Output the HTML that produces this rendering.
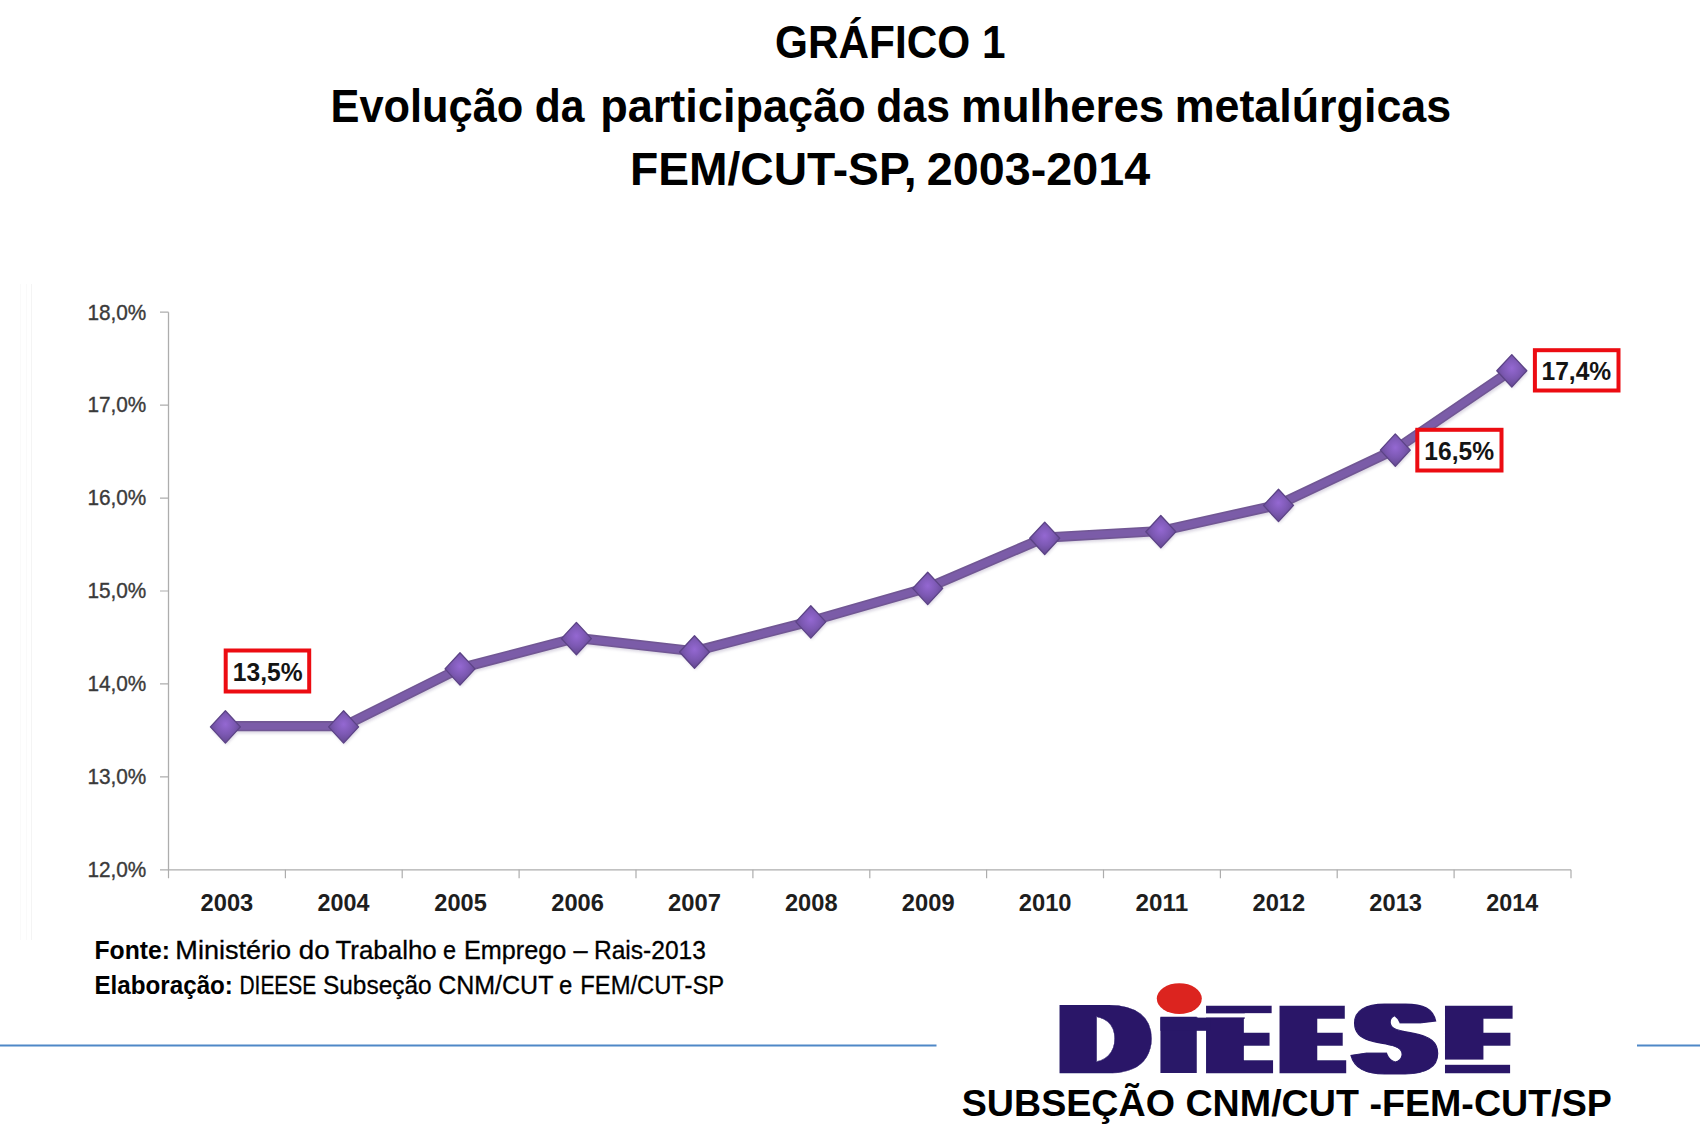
<!DOCTYPE html>
<html lang="pt-BR"><head><meta charset="utf-8"><title>GRÁFICO 1 – Evolução da participação das mulheres metalúrgicas</title>
<style>
html,body{margin:0;padding:0;background:#fff;}
body{width:1700px;height:1133px;overflow:hidden;position:relative;}
svg{position:absolute;left:0;top:0;display:block;}
text{font-family:"Liberation Sans",Arial,Helvetica,sans-serif;}
.t{font-weight:bold;fill:#000;font-size:45.5px;}
.yl{font-size:21.5px;fill:#3a3a3a;stroke:#3a3a3a;stroke-width:0.35px;}
.xl{font-size:23.5px;font-weight:bold;fill:#1e1e1e;}
.dl{font-size:25.5px;font-weight:bold;fill:#141414;}
.fn{font-size:25px;fill:#000;stroke:#000;stroke-width:0.3px;}
.fn .b{stroke:none;}
.b{font-weight:bold;}
.sub{font-size:37.7px;font-weight:bold;fill:#000;}
.logo{font-weight:bold;fill:#291868;}
</style></head><body>
<svg width="1700" height="1133" viewBox="0 0 1700 1133">
<defs>
<radialGradient id="dg" cx="0.5" cy="0.42" r="0.55">
<stop offset="0" stop-color="#9468d2"/><stop offset="0.55" stop-color="#7d59b4"/><stop offset="1" stop-color="#664a94"/>
</radialGradient>
<filter id="sh" x="-5%" y="-20%" width="110%" height="140%"><feGaussianBlur stdDeviation="1.6"/></filter>
</defs>
<rect width="1700" height="1133" fill="#ffffff"/>
<text class="t" x="775.06" y="58.00" textLength="230.51" lengthAdjust="spacingAndGlyphs">GRÁFICO 1</text>
<text class="t" y="121.50"><tspan x="330.50" textLength="192.79" lengthAdjust="spacingAndGlyphs">Evolução</tspan> <tspan x="534.75" textLength="49.68" lengthAdjust="spacingAndGlyphs">da</tspan> <tspan x="600.13" textLength="265.63" lengthAdjust="spacingAndGlyphs">participação</tspan> <tspan x="876.35" textLength="73.60" lengthAdjust="spacingAndGlyphs">das</tspan> <tspan x="960.99" textLength="203.29" lengthAdjust="spacingAndGlyphs">mulheres</tspan> <tspan x="1174.64" textLength="276.59" lengthAdjust="spacingAndGlyphs">metalúrgicas</tspan></text>
<text class="t" y="184.70"><tspan x="629.91" textLength="286.68" lengthAdjust="spacingAndGlyphs">FEM/CUT-SP,</tspan> <tspan x="926.88" textLength="223.27" lengthAdjust="spacingAndGlyphs">2003-2014</tspan></text>
<g id="chart">
<path d="M20.5 284V940M26.5 284V940" stroke="#fafafa" stroke-width="1" fill="none"/>
<path d="M31.5 284V940" stroke="#f4f4f4" stroke-width="1" fill="none"/>
<path d="M168.5 312.2V869.8H1571.0" stroke="#adadad" stroke-width="1.3" fill="none"/>
<path d="M160.0 312.2H168.5M160.0 405.1H168.5M160.0 498.1H168.5M160.0 591.0H168.5M160.0 683.9H168.5M160.0 776.9H168.5M160.0 869.8H168.5M168.5 869.8V878.2M285.4 869.8V878.2M402.2 869.8V878.2M519.1 869.8V878.2M636.0 869.8V878.2M752.9 869.8V878.2M869.8 869.8V878.2M986.6 869.8V878.2M1103.5 869.8V878.2M1220.4 869.8V878.2M1337.2 869.8V878.2M1454.1 869.8V878.2M1571.0 869.8V878.2" stroke="#adadad" stroke-width="1.2" fill="none"/>
<text class="yl" x="87.42" y="319.50" textLength="58.92" lengthAdjust="spacingAndGlyphs">18,0%</text>
<text class="yl" x="87.42" y="412.43" textLength="58.92" lengthAdjust="spacingAndGlyphs">17,0%</text>
<text class="yl" x="87.42" y="505.37" textLength="58.92" lengthAdjust="spacingAndGlyphs">16,0%</text>
<text class="yl" x="87.42" y="598.30" textLength="58.92" lengthAdjust="spacingAndGlyphs">15,0%</text>
<text class="yl" x="87.42" y="691.23" textLength="58.92" lengthAdjust="spacingAndGlyphs">14,0%</text>
<text class="yl" x="87.42" y="784.17" textLength="58.92" lengthAdjust="spacingAndGlyphs">13,0%</text>
<text class="yl" x="87.42" y="877.10" textLength="58.92" lengthAdjust="spacingAndGlyphs">12,0%</text>
<text class="xl" x="200.62" y="910.90" textLength="52.68" lengthAdjust="spacingAndGlyphs">2003</text>
<text class="xl" x="317.50" y="910.90" textLength="51.93" lengthAdjust="spacingAndGlyphs">2004</text>
<text class="xl" x="434.37" y="910.90" textLength="52.47" lengthAdjust="spacingAndGlyphs">2005</text>
<text class="xl" x="551.24" y="910.90" textLength="52.68" lengthAdjust="spacingAndGlyphs">2006</text>
<text class="xl" x="668.11" y="910.90" textLength="52.87" lengthAdjust="spacingAndGlyphs">2007</text>
<text class="xl" x="784.99" y="910.90" textLength="52.55" lengthAdjust="spacingAndGlyphs">2008</text>
<text class="xl" x="901.87" y="910.90" textLength="52.70" lengthAdjust="spacingAndGlyphs">2009</text>
<text class="xl" x="1018.74" y="910.90" textLength="52.80" lengthAdjust="spacingAndGlyphs">2010</text>
<text class="xl" x="1135.60" y="910.90" textLength="52.51" lengthAdjust="spacingAndGlyphs">2011</text>
<text class="xl" x="1252.49" y="910.90" textLength="52.77" lengthAdjust="spacingAndGlyphs">2012</text>
<text class="xl" x="1369.37" y="910.90" textLength="52.68" lengthAdjust="spacingAndGlyphs">2013</text>
<text class="xl" x="1486.25" y="910.90" textLength="51.93" lengthAdjust="spacingAndGlyphs">2014</text>
<g filter="url(#sh)" opacity="0.2"><polyline points="225.4,726.2 343.6,726.2 460.0,668.2 576.4,637.9 694.5,651.3 810.8,621.2 927.7,587.7 1044.7,537.6 1160.8,531.0 1278.5,504.7 1395.3,449.4 1511.8,370.1" transform="translate(1,2)" fill="none" stroke="#4a3570" stroke-width="10" stroke-linejoin="round"/>
<path d="M226.4 713.7l15 15.5l-15 15.5l-15-15.5z" fill="#4a3570"/>
<path d="M344.6 713.7l15 15.5l-15 15.5l-15-15.5z" fill="#4a3570"/>
<path d="M461.0 655.7l15 15.5l-15 15.5l-15-15.5z" fill="#4a3570"/>
<path d="M577.4 625.4l15 15.5l-15 15.5l-15-15.5z" fill="#4a3570"/>
<path d="M695.5 638.8l15 15.5l-15 15.5l-15-15.5z" fill="#4a3570"/>
<path d="M811.8 608.7l15 15.5l-15 15.5l-15-15.5z" fill="#4a3570"/>
<path d="M928.7 575.2l15 15.5l-15 15.5l-15-15.5z" fill="#4a3570"/>
<path d="M1045.7 525.1l15 15.5l-15 15.5l-15-15.5z" fill="#4a3570"/>
<path d="M1161.8 518.5l15 15.5l-15 15.5l-15-15.5z" fill="#4a3570"/>
<path d="M1279.5 492.2l15 15.5l-15 15.5l-15-15.5z" fill="#4a3570"/>
<path d="M1396.3 436.9l15 15.5l-15 15.5l-15-15.5z" fill="#4a3570"/>
<path d="M1512.8 357.6l15 15.5l-15 15.5l-15-15.5z" fill="#4a3570"/>
</g>
<polyline points="225.4,726.2 343.6,726.2 460.0,668.2 576.4,637.9 694.5,651.3 810.8,621.2 927.7,587.7 1044.7,537.6 1160.8,531.0 1278.5,504.7 1395.3,449.4 1511.8,370.1" fill="none" stroke="#715794" stroke-width="10.2" stroke-linejoin="round" stroke-linecap="round"/>
<polyline points="225.4,726.2 343.6,726.2 460.0,668.2 576.4,637.9 694.5,651.3 810.8,621.2 927.7,587.7 1044.7,537.6 1160.8,531.0 1278.5,504.7 1395.3,449.4 1511.8,370.1" fill="none" stroke="#7b5ca8" stroke-width="7" stroke-linejoin="round" stroke-linecap="round"/>
<path d="M225.4 710.7l15.0 16.2l-15.0 16.2l-15.0-16.2z" fill="url(#dg)" stroke="#5c4386" stroke-width="1.3" stroke-linejoin="round"/>
<path d="M343.6 710.7l15.0 16.2l-15.0 16.2l-15.0-16.2z" fill="url(#dg)" stroke="#5c4386" stroke-width="1.3" stroke-linejoin="round"/>
<path d="M460.0 652.7l15.0 16.2l-15.0 16.2l-15.0-16.2z" fill="url(#dg)" stroke="#5c4386" stroke-width="1.3" stroke-linejoin="round"/>
<path d="M576.4 622.4l15.0 16.2l-15.0 16.2l-15.0-16.2z" fill="url(#dg)" stroke="#5c4386" stroke-width="1.3" stroke-linejoin="round"/>
<path d="M694.5 635.8l15.0 16.2l-15.0 16.2l-15.0-16.2z" fill="url(#dg)" stroke="#5c4386" stroke-width="1.3" stroke-linejoin="round"/>
<path d="M810.8 605.7l15.0 16.2l-15.0 16.2l-15.0-16.2z" fill="url(#dg)" stroke="#5c4386" stroke-width="1.3" stroke-linejoin="round"/>
<path d="M927.7 572.2l15.0 16.2l-15.0 16.2l-15.0-16.2z" fill="url(#dg)" stroke="#5c4386" stroke-width="1.3" stroke-linejoin="round"/>
<path d="M1044.7 522.1l15.0 16.2l-15.0 16.2l-15.0-16.2z" fill="url(#dg)" stroke="#5c4386" stroke-width="1.3" stroke-linejoin="round"/>
<path d="M1160.8 515.5l15.0 16.2l-15.0 16.2l-15.0-16.2z" fill="url(#dg)" stroke="#5c4386" stroke-width="1.3" stroke-linejoin="round"/>
<path d="M1278.5 489.2l15.0 16.2l-15.0 16.2l-15.0-16.2z" fill="url(#dg)" stroke="#5c4386" stroke-width="1.3" stroke-linejoin="round"/>
<path d="M1395.3 433.9l15.0 16.2l-15.0 16.2l-15.0-16.2z" fill="url(#dg)" stroke="#5c4386" stroke-width="1.3" stroke-linejoin="round"/>
<path d="M1511.8 354.6l15.0 16.2l-15.0 16.2l-15.0-16.2z" fill="url(#dg)" stroke="#5c4386" stroke-width="1.3" stroke-linejoin="round"/>
<rect x="225.7" y="650.5" width="83.5" height="41.0" fill="#ffffff" stroke="#ec0c12" stroke-width="4.0"/>
<text class="dl" x="232.75" y="680.70" textLength="69.80" lengthAdjust="spacingAndGlyphs">13,5%</text>
<rect x="1417.3" y="429.8" width="84.2" height="40.7" fill="#ffffff" stroke="#ec0c12" stroke-width="4.0"/>
<text class="dl" x="1424.35" y="459.90" textLength="69.80" lengthAdjust="spacingAndGlyphs">16,5%</text>
<rect x="1534.9" y="350.2" width="83.6" height="40.3" fill="#ffffff" stroke="#ec0c12" stroke-width="4.0"/>
<text class="dl" x="1541.45" y="380.00" textLength="69.80" lengthAdjust="spacingAndGlyphs">17,4%</text>
</g>
<text class="fn" y="959.00"><tspan class="b" x="94.45" textLength="75.53" lengthAdjust="spacingAndGlyphs">Fonte:</tspan> <tspan x="175.38" textLength="115.76" lengthAdjust="spacingAndGlyphs">Ministério</tspan> <tspan x="298.84" textLength="30.83" lengthAdjust="spacingAndGlyphs">do</tspan> <tspan x="335.52" textLength="101.17" lengthAdjust="spacingAndGlyphs">Trabalho</tspan> <tspan x="443.10" textLength="13.04" lengthAdjust="spacingAndGlyphs">e</tspan> <tspan x="464.03" textLength="102.33" lengthAdjust="spacingAndGlyphs">Emprego</tspan> <tspan x="573.50" textLength="14.11" lengthAdjust="spacingAndGlyphs">–</tspan> <tspan x="593.88" textLength="112.10" lengthAdjust="spacingAndGlyphs">Rais-2013</tspan></text>
<text class="fn" y="993.60"><tspan class="b" x="94.48" textLength="138.44" lengthAdjust="spacingAndGlyphs">Elaboração:</tspan> <tspan x="239.48" textLength="76.71" lengthAdjust="spacingAndGlyphs">DIEESE</tspan> <tspan x="322.99" textLength="108.63" lengthAdjust="spacingAndGlyphs">Subseção</tspan> <tspan x="438.14" textLength="114.84" lengthAdjust="spacingAndGlyphs">CNM/CUT</tspan> <tspan x="558.99" textLength="13.27" lengthAdjust="spacingAndGlyphs">e</tspan> <tspan x="580.35" textLength="143.80" lengthAdjust="spacingAndGlyphs">FEM/CUT-SP</tspan></text>
<path d="M0 1045.5H936.5M1637 1045.5H1700" stroke="#4f88c7" stroke-width="2.2" fill="none"/>
<g id="logo">
<filter id="hd10" filterUnits="userSpaceOnUse" x="1030" y="985" width="520" height="110"><feMorphology operator="dilate" radius="10 0"/></filter>
<filter id="hd13" filterUnits="userSpaceOnUse" x="1030" y="985" width="520" height="110"><feMorphology operator="dilate" radius="13 0"/></filter>
<g filter="url(#hd10)"><text class="logo" font-size="97.97" stroke="#291868" stroke-width="0.3" transform="translate(1061.95,1072.95) scale(1.1941,1)" x="0" y="0">D</text></g>
<g><text class="logo" font-size="80.96" transform="translate(1143.50,1073.10) scale(3.1213,1)" x="0" y="0">I</text></g>
<g filter="url(#hd13)"><text class="logo" font-size="94.62" stroke="#291868" stroke-width="2.4" transform="translate(1215.21,1071.80) scale(0.7389,1)" x="0" y="0">E</text></g>
<g filter="url(#hd13)"><text class="logo" font-size="94.33" stroke="#291868" stroke-width="2.4" transform="translate(1288.74,1071.60) scale(0.7357,1)" x="0" y="0">E</text></g>
<g filter="url(#hd10)"><text class="logo" font-size="98.30" stroke="#291868" stroke-width="1.0" transform="translate(1357.66,1072.94) scale(1.1336,1)" x="0" y="0">S</text></g>
<g filter="url(#hd13)"><text class="logo" font-size="94.33" stroke="#291868" stroke-width="2.4" transform="translate(1454.12,1071.70) scale(0.7790,1)" x="0" y="0">E</text></g>
<rect x="1160.4" y="1017.4" width="50" height="13.4" fill="#291868"/>
<rect x="1198" y="1013.4" width="78" height="4" fill="#ffffff"/>
<rect x="1244.8" y="1013.4" width="32" height="6.4" fill="#ffffff"/>
<rect x="1440" y="1059.6" width="78" height="5.2" fill="#ffffff"/>
<rect x="1510.1" y="1059" width="8" height="16" fill="#ffffff"/>
<ellipse cx="1179.3" cy="998.6" rx="22.5" ry="15.4" fill="#dc241f"/>
</g>
<text class="sub" x="961.72" y="1116.10" textLength="650.17" lengthAdjust="spacingAndGlyphs">SUBSEÇÃO CNM/CUT -FEM-CUT/SP</text>
</svg></body></html>
